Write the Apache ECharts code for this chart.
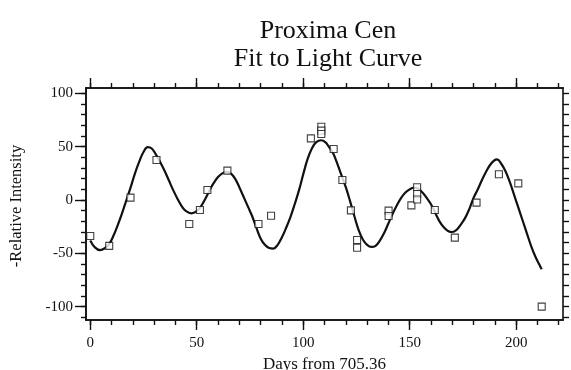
<!DOCTYPE html>
<html>
<head>
<meta charset="utf-8">
<script src="https://cdn.jsdelivr.net/npm/echarts@6/dist/echarts.min.js"></script>
<style>
  html, body { margin: 0; padding: 0; background: #fff; }
  #chart { width: 571px; height: 370px; }
</style>
</head>
<body>
<div id="chart"></div>
<script>
// Observed photometry: day offset and relative intensity
const obsDays = [0, 8.9, 18.9, 31.1, 46.5, 51.5, 55, 64.4, 79, 84.9,
  103.6, 108.5, 108.5, 108.5, 114.3, 118.4, 122.4, 125.3, 125.3,
  140.1, 140.1, 150.8, 153.5, 153.5, 153.5, 161.8, 171.2, 181.4,
  191.9, 201, 212];
const obsIntensity = [-33.7, -43, 2.2, 37.5, -22.5, -9.4, 9.4, 27.5, -22.5, -14.7,
  57.8, 68.7, 65, 61.9, 47.8, 18.7, -9.7, -37.5, -44.7,
  -10, -15, -5, 11.9, 5.6, 0.5, -9.4, -35.3, -2.5,
  24.1, 15.6, -100];

// Fitted model curve sampled along the time axis
const fitDays = [0, 2, 4.5, 7, 9, 11, 13, 15, 17, 19, 21, 23, 25, 27, 29, 31, 33, 35, 37, 39,
  41, 43, 45, 47.5, 50, 52, 54, 56, 58, 60, 62, 64, 66, 68, 70, 72, 74, 76, 78, 80,
  82, 84, 86, 88, 90, 92, 94, 96, 98, 100, 102, 104, 106, 108.5, 110.5, 112, 114, 116, 118, 120,
  122, 124, 126, 128, 130, 132, 134, 136, 138, 140, 142, 144, 146, 148, 150, 152, 154, 156, 158, 160,
  162, 164, 166, 168, 170, 172, 174, 176, 178, 180, 182, 184, 186, 188, 190, 191, 193, 195, 197, 199,
  201, 203, 205, 207, 209, 211, 212];
const fitIntensity = [-38, -44, -47, -45, -41, -33, -23, -12, 0, 12, 25, 36, 45, 49.5, 48, 42, 35, 27, 18, 9,
  1, -6, -10.5, -12.5, -10.5, -6, 1, 9, 16, 21.5, 25, 26.5, 25, 20, 12, 3, -6, -15, -26, -36,
  -42, -45, -45.5, -42, -35, -26, -16, -4, 9, 24, 38, 48, 54, 56, 54, 50, 44, 34, 23, 12,
  -1, -15, -28, -37, -42, -44, -43, -38, -31, -22, -13, -5, 2, 7, 10, 11.5, 10.5, 7, 2, -4,
  -12, -20, -25.5, -29, -30, -28, -23, -17, -8.5, 2, 10, 19, 27, 33.5, 37.5, 38, 34, 27, 17, 5,
  -7, -19, -31, -43, -53, -61, -65];

// Axis ticks and labels
const xMajorTicks = [0, 50, 100, 150, 200];
const xMinorTicks = [0, 10, 20, 30, 40, 50, 60, 70, 80, 90, 100, 110, 120, 130, 140, 150, 160, 170, 180, 190, 200, 210, 220];
const yMajorTicks = [-100, -50, 0, 50, 100];
const yMinorTicks = [-110, -100, -90, -80, -70, -60, -50, -40, -30, -20, -10, 0, 10, 20, 30, 40, 50, 60, 70, 80, 90, 100];

const X_MIN = -2, X_MAX = 222;
const Y_MIN = -112.5, Y_MAX = 105;
const SERIF = '"Liberation Serif", "Times New Roman", serif';
const INK = '#111';

const obsData = obsDays.map((d, i) => [d, obsIntensity[i]]);
const fitData = fitDays.map((d, i) => [d, fitIntensity[i]]);

function axisDef(min, max, position, ticks, len, opts) {
  return Object.assign({
    type: 'value', position: position, min: min, max: max,
    axisLine: { show: true, onZero: false, lineStyle: { color: INK, width: 1.6 } },
    axisTick: { show: true, inside: false, length: len, customValues: ticks, lineStyle: { color: INK, width: 1.4 } },
    axisLabel: { show: false },
    splitLine: { show: false }
  }, opts || {});
}
const xAxisDef = (p, t, l, o) => axisDef(X_MIN, X_MAX, p, t, l, o);
const yAxisDef = (p, t, l, o) => axisDef(Y_MIN, Y_MAX, p, t, l, o);

const chart = echarts.init(document.getElementById('chart'), null, { renderer: 'canvas' });
chart.setOption({
  animation: false,
  backgroundColor: '#fff',
  title: {
    text: 'Proxima Cen\nFit to Light Curve',
    left: 323, top: 12, textAlign: 'center',
    textStyle: { fontFamily: SERIF, fontSize: 26, fontWeight: 'normal', color: INK, lineHeight: 28 }
  },
  graphic: [{
    type: 'text', x: 17, y: 206, rotation: Math.PI / 2,
    style: {
      text: '-Relative Intensity', fontFamily: SERIF, fontSize: 16.5, fill: INK,
      align: 'center', verticalAlign: 'middle'
    }
  }],
  grid: { left: 86, top: 88, width: 477, height: 232, containLabel: false, outerBoundsMode: 'none' },
  xAxis: [
    xAxisDef('bottom', xMajorTicks, 10, {
      name: 'Days from 705.36', nameLocation: 'middle', nameGap: 27,
      nameTextStyle: { fontFamily: SERIF, fontSize: 17, color: INK },
      axisLabel: { show: true, customValues: xMajorTicks, margin: 16, fontFamily: SERIF, fontSize: 15, color: INK }
    }),
    xAxisDef('bottom', xMinorTicks, 5),
    xAxisDef('top', xMajorTicks, 10),
    xAxisDef('top', xMinorTicks, 5)
  ],
  yAxis: [
    yAxisDef('left', yMajorTicks, 11, {
      axisLabel: { show: true, customValues: yMajorTicks, margin: 13, fontFamily: SERIF, fontSize: 15, color: INK }
    }),
    yAxisDef('left', yMinorTicks, 5),
    yAxisDef('right', yMinorTicks, 6)
  ],
  series: [
    {
      type: 'line', name: 'fit', xAxisIndex: 0, yAxisIndex: 0,
      data: fitData, smooth: 0.4, showSymbol: false, symbol: 'none',
      lineStyle: { color: INK, width: 2.2 }, z: 2
    },
    {
      type: 'scatter', name: 'observed', xAxisIndex: 0, yAxisIndex: 0,
      data: obsData, symbol: 'rect', symbolSize: 7,
      itemStyle: { color: '#fff', borderColor: INK, borderWidth: 1.1 }, z: 3
    }
  ]
});
</script>
</body>
</html>
